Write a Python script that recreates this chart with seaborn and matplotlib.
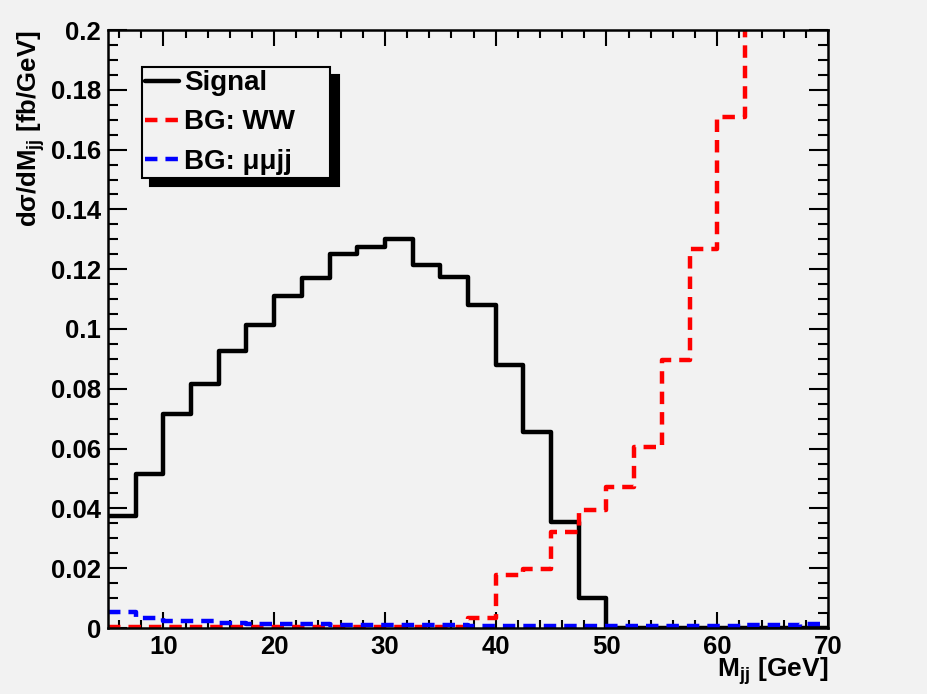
import numpy as np
import pandas as pd
import matplotlib
matplotlib.use("Agg")
import matplotlib.pyplot as plt
import seaborn as sns
from matplotlib.ticker import MultipleLocator, FuncFormatter

# bin edges 5..70 GeV, width 2.5
bin_lo = 5
bin_hi = 70
bin_w = 2.5
centers = np.arange(bin_lo, bin_hi, bin_w) + bin_w / 2

signal = [0.0375, 0.0515, 0.0715, 0.0815, 0.0925, 0.1015, 0.111, 0.117, 0.125,
          0.1275, 0.130, 0.1215, 0.1175, 0.108, 0.088, 0.0655, 0.0355, 0.0100,
          0, 0, 0, 0, 0, 0, 0, 0]
bg_ww = [0.0005] * 13 + [0.0035, 0.0177, 0.0197, 0.032, 0.0395, 0.047, 0.0605,
                         0.0896, 0.1268, 0.171, 0.23, 0.29, 0.36]
bg_mumujj = [0.0053, 0.0035, 0.0023, 0.0022, 0.0017, 0.0014, 0.0012, 0.0012,
             0.0011, 0.0010, 0.0009, 0.0009, 0.0009, 0.0008, 0.0008, 0.0007,
             0.0007, 0.0007, 0.0007, 0.0008, 0.0008, 0.0008, 0.0008, 0.0009,
             0.0010, 0.0014]

sns.set_theme(style="ticks")
bg = "#f2f2f2"
plt.rcParams["font.family"] = ["Liberation Sans", "DejaVu Sans"]
plt.rcParams["font.weight"] = "bold"
plt.rcParams["text.color"] = "black"
plt.rcParams["axes.labelcolor"] = "black"
plt.rcParams["mathtext.fontset"] = "custom"
plt.rcParams["mathtext.rm"] = "Liberation Sans:bold"
plt.rcParams["mathtext.bf"] = "Liberation Sans:bold"
plt.rcParams["mathtext.it"] = "Liberation Sans:bold"
plt.rcParams["mathtext.default"] = "rm"

fig = plt.figure(figsize=(9.28, 6.94), dpi=100, facecolor=bg)
ax = fig.add_axes([108 / 928, 66 / 694, 720 / 928, 598 / 694])
ax.set_facecolor(bg)

lw = 3.2
dash = (0, (2.8, 1.8))
series = [("Signal", signal, "black", "-"),
          ("BG: WW", bg_ww, "red", dash),
          ("BG: μμjj", bg_mumujj, "blue", dash)]
for name, vals, col, ls in series:
    df = pd.DataFrame({"mjj": centers, "w": vals})
    sns.histplot(data=df, x="mjj", weights="w", binwidth=bin_w,
                 binrange=(bin_lo, bin_hi), element="step", fill=False,
                 color=col, linewidth=lw, linestyle=ls, ax=ax, label=name)

ax.set_xlim(5, 70)
ax.set_ylim(0, 0.2)

ax.xaxis.set_major_locator(MultipleLocator(10))
ax.xaxis.set_minor_locator(MultipleLocator(2))
ax.yaxis.set_major_locator(MultipleLocator(0.02))
ax.yaxis.set_minor_locator(MultipleLocator(0.005))
ax.yaxis.set_major_formatter(FuncFormatter(lambda v, p: "%g" % round(v, 4)))

for s in ax.spines.values():
    s.set_visible(True)
    s.set_linewidth(1.8)
    s.set_color("black")

ax.tick_params(which="both", direction="in", top=True, right=True,
               width=1.5, color="black", labelsize=18.5, labelcolor="black")
ax.tick_params(axis="x", which="major", length=11.5, pad=5)
ax.tick_params(axis="x", which="minor", length=5.5)
ax.tick_params(axis="y", which="major", length=14, pad=5)
ax.tick_params(axis="y", which="minor", length=7)
for t in ax.get_xticklabels() + ax.get_yticklabels():
    t.set_fontweight("bold")

ax.set_xlabel("M$_{jj}$ [GeV]", fontsize=19, fontweight="bold", loc="right",
              color="black")
ax.xaxis.set_label_coords(1.0, -0.045)
ax.set_ylabel("dσ/dM$_{jj}$ [fb/GeV]", fontsize=18.5, fontweight="bold",
              loc="top", color="black")
ax.yaxis.set_label_coords(-0.085, 1.0)

leg = ax.legend(loc="upper left", bbox_to_anchor=(0.047, 0.938, 0.262, 0.0),
                mode="expand", borderaxespad=0, fancybox=False,
                edgecolor="black", facecolor=bg, framealpha=1,
                prop={"size": 20, "weight": "bold"}, handlelength=1.2,
                handletextpad=0.2, borderpad=0.12, labelspacing=0.47,
                shadow={"ox": 5.8, "oy": -5.8, "color": "black", "alpha": 1})
leg.get_frame().set_linewidth(1.5)
for t in leg.get_texts():
    t.set_color("black")

fig.savefig("out.png", dpi=100, facecolor=bg)
